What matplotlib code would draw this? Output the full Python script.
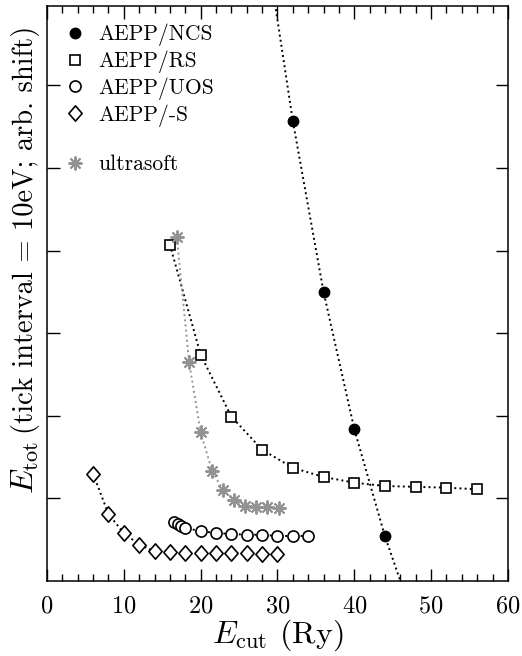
import matplotlib
matplotlib.use("Agg")
import matplotlib.pyplot as plt
from matplotlib.lines import Line2D
from matplotlib.path import Path

plt.rcParams['font.family'] = 'cmr10'
plt.rcParams['mathtext.fontset'] = 'cm'
plt.rcParams['axes.formatter.use_mathtext'] = True

# AEPP/NCS (filled circles) and the dotted curve through them
ncs_x = [32, 36, 40, 44]
ncs_y = [55.7, 35.0, 18.4, 5.4]
ncs_line_x = [29.5, 32, 36, 40, 44, 46.3]
ncs_line_y = [71.0, 55.7, 35.0, 18.4, 5.4, -0.8]

# AEPP/RS (open squares)
rs_x = [16, 20, 24, 28, 32, 36, 40, 44, 48, 52, 56]
rs_y = [40.7, 27.4, 19.9, 15.9, 13.7, 12.6, 11.9, 11.5, 11.4, 11.3, 11.1]

# AEPP/UOS (open circles)
uos_x = [16.5, 17, 17.5, 18, 20, 22, 24, 26, 28, 30, 32, 34]
uos_y = [7.1, 6.9, 6.7, 6.4, 6.05, 5.8, 5.7, 5.6, 5.6, 5.45, 5.45, 5.45]

# AEPP/-S (open diamonds)
s_x = [6, 8, 10, 12, 14, 16, 18, 20, 22, 24, 26, 28, 30]
s_y = [13.0, 8.1, 5.8, 4.4, 3.6, 3.5, 3.4, 3.4, 3.4, 3.4, 3.4, 3.3, 3.3]

# ultrasoft (grey asterisks)
us_x = [16.9, 18.5, 20.0, 21.5, 22.9, 24.3, 25.8, 27.2, 28.7, 30.2]
us_y = [41.6, 26.5, 18.0, 13.3, 11.0, 9.8, 9.1, 9.0, 9.0, 8.8]

GREY = '#939393'
diamond = Path([(0, 1), (0.87, 0), (0, -1), (-0.87, 0), (0, 1)],
               [Path.MOVETO, Path.LINETO, Path.LINETO, Path.LINETO, Path.CLOSEPOLY])
asterisk = (8, 2, 0)

fig = plt.figure(figsize=(5.22, 6.56), dpi=100)
ax = fig.add_axes([0.090, 0.1143, 0.883, 0.8766])

# dotted connecting lines
ax.plot(ncs_line_x, ncs_line_y, color='black', ls=':', lw=1.4, zorder=1)
ax.plot(rs_x, rs_y, color='black', ls=':', lw=1.4, zorder=1)
ax.plot(uos_x, uos_y, color='black', ls=':', lw=1.4, zorder=1)
ax.plot(s_x, s_y, color='black', ls=':', lw=1.4, zorder=1)
ax.plot(us_x, us_y, color=GREY, ls=':', lw=1.4, zorder=1)

# markers
ax.plot(ncs_x, ncs_y, ls='none', marker='o', ms=7.5, mfc='black', mec='black', zorder=3)
ax.plot(rs_x, rs_y, ls='none', marker='s', ms=7.5, mfc='white', mec='black', mew=1.2, zorder=3)
ax.plot(uos_x, uos_y, ls='none', marker='o', ms=8, mfc='white', mec='black', mew=1.2, zorder=3)
ax.plot(s_x, s_y, ls='none', marker=diamond, ms=11, mfc='white', mec='black', mew=1.2, zorder=3)
ax.plot(us_x, us_y, ls='none', marker=asterisk, ms=10, mec=GREY, mew=1.4, zorder=3)

ax.set_xlim(0, 60)
ax.set_ylim(0, 69.6)
ax.set_xticks(range(0, 61, 10))
ax.set_xticks(range(0, 61, 2), minor=True)
ax.set_yticks(range(10, 61, 10))
ax.set_yticklabels([])
ax.tick_params(which='both', direction='in', top=True, right=True, width=1.0)
ax.tick_params(which='major', length=9, labelsize=17.5, pad=10)
ax.tick_params(which='minor', length=5)
for sp in ax.spines.values():
    sp.set_linewidth(1.1)

ax.set_xlabel(r'$E_{\rm cut}$ (Ry)', fontsize=23, labelpad=0)

# y label built from two pieces with a shared baseline
fig.text(0.064, 0.2470, r'$E_{\rm tot}$', fontsize=23, rotation=90,
         rotation_mode='anchor', ha='left', va='baseline')
fig.text(0.064, 0.338, '(tick interval = 10eV; arb. shift)', fontsize=20.5,
         rotation=90, rotation_mode='anchor', ha='left', va='baseline')

handles = [
    Line2D([], [], ls='none', marker='o', ms=7.5, mfc='black', mec='black'),
    Line2D([], [], ls='none', marker='s', ms=7.5, mfc='white', mec='black', mew=1.2),
    Line2D([], [], ls='none', marker='o', ms=8, mfc='white', mec='black', mew=1.2),
    Line2D([], [], ls='none', marker=diamond, ms=11, mfc='white', mec='black', mew=1.2),
    Line2D([], [], ls='none'),
    Line2D([], [], ls='none', marker=asterisk, ms=10, mec=GREY, mew=1.4),
]
labels = ['AEPP/NCS', 'AEPP/RS', 'AEPP/UOS', 'AEPP/-S', ' ', 'ultrasoft']
ax.legend(handles, labels, loc='upper left', bbox_to_anchor=(0.0, 0.995),
          frameon=False, fontsize=15.5, handlelength=1.2, handletextpad=0.5,
          labelspacing=0.2, borderaxespad=0.3)

fig.savefig('out.png', dpi=100)
